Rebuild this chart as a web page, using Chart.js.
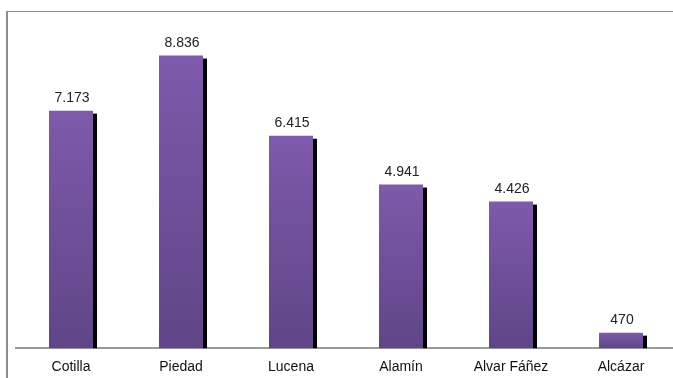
<!DOCTYPE html>
<html>
<head>
<meta charset="utf-8">
<script src="https://cdn.jsdelivr.net/npm/chart.js@4.4.1/dist/chart.umd.min.js"></script>
<style>
  html, body { margin: 0; padding: 0; background: #fff; overflow: hidden; }
  #wrap { position: relative; width: 673px; height: 378px; overflow: hidden; }
  #frame { position: absolute; left: 6px; top: 11px; width: 700px; height: 400px;
           border-left: 2px solid #8c8c8c; border-top: 1px solid #8c8c8c; }
</style>
</head>
<body>
<div id="wrap">
  <div id="frame"></div>
  <canvas id="barras" width="690" height="387" style="position:absolute;left:0;top:0;"></canvas>
</div>
<script>
const barrios = ["Cotilla", "Piedad", "Lucena", "Alamín", "Alvar Fáñez", "Alcázar"];
const habitantes = [7173, 8836, 6415, 4941, 4426, 470];

// formato con punto de miles
function miles(v) {
  return String(v).replace(/\B(?=(\d{3})+(?!\d))/g, ".");
}

// sombra negra a la derecha de cada barra
const sombra = {
  id: "sombra",
  beforeDatasetsDraw(chart) {
    const ctx = chart.ctx;
    ctx.save();
    ctx.fillStyle = "#000";
    chart.getDatasetMeta(0).data.forEach(bar => {
      const x = bar.x + bar.width / 2;
      ctx.fillRect(x, bar.y + 3, 4, bar.base - bar.y - 3);
    });
    ctx.restore();
  }
};

// valor encima de cada barra
const etiquetas = {
  id: "etiquetas",
  afterDatasetsDraw(chart) {
    const ctx = chart.ctx;
    ctx.save();
    ctx.font = "14px 'Liberation Sans', Arial, sans-serif";
    ctx.fillStyle = "#222";
    ctx.textAlign = "center";
    ctx.textBaseline = "alphabetic";
    chart.getDatasetMeta(0).data.forEach((bar, i) => {
      ctx.fillText(miles(habitantes[i]), bar.x + 1, bar.y - 9);
    });
    ctx.restore();
  }
};

function degradado(context) {
  const chart = context.chart;
  if (!chart.chartArea) return "#74529f";
  const y = chart.scales.y;
  const v = context.raw;
  const top = y.getPixelForValue(v);
  const base = y.getPixelForValue(0);
  const g = chart.ctx.createLinearGradient(0, top, 0, base);
  g.addColorStop(0, "#7f59ab");
  g.addColorStop(1, "#5f4587");
  return g;
}

new Chart(document.getElementById("barras"), {
  type: "bar",
  data: {
    labels: barrios,
    datasets: [{
      data: habitantes,
      backgroundColor: degradado,
      borderWidth: 0,
      barPercentage: 0.4,
      categoryPercentage: 1
    }]
  },
  options: {
    responsive: false,
    animation: false,
    layout: { padding: { left: 16, right: 14, top: 17, bottom: 0 } },
    plugins: { legend: { display: false }, tooltip: { enabled: false } },
    scales: {
      x: {
        grid: { display: false, drawTicks: false },
        border: { color: "#999", width: 2 },
        ticks: {
          color: "#111",
          padding: 11,
          font: { family: "'Liberation Sans', Arial, sans-serif", size: 14 }
        }
      },
      y: {
        display: false,
        min: 0,
        max: 10000
      }
    }
  },
  plugins: [sombra, etiquetas]
});
</script>
</body>
</html>
